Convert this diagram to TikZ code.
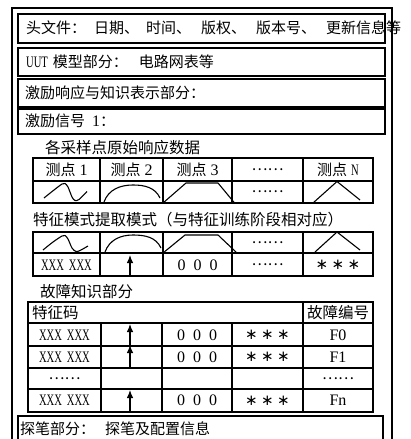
\documentclass[tikz,border=0pt]{standalone}
\usepackage{fontspec}
\setmainfont{Liberation Serif}
\newfontfamily\cjk{Noto Sans CJK SC}
\newfontfamily\latn[FakeStretch=0.66]{Liberation Serif}
\newfontfamily\dejavu{DejaVu Sans}
\usetikzlibrary{arrows.meta}
\tikzset{
  frame/.style={line width=1.8pt},
  secbox/.style={draw, line width=1.5pt, inner sep=0pt, anchor=north west},
  gridline/.style={line width=1.2pt},
  txt/.style={inner sep=0pt, font=\cjk\fontsize{15pt}{15pt}\selectfont},
  bigtxt/.style={inner sep=0pt, font=\cjk\fontsize{15.5pt}{15.5pt}\selectfont},
  cell/.style={inner sep=0pt, font=\fontsize{16pt}{16pt}\selectfont},
  curve/.style={line width=1.1pt, line join=round},
  uparrow/.style={-{Latex[length=8pt,width=6.5pt]}, line width=1.1pt}
}
\newcommand{\dd}{{\cjk\fontsize{15pt}{15pt}\selectfont ……}}
\newcommand{\st}{\makebox[16pt]{\dejavu\fontsize{15pt}{15pt}\selectfont ∗}}
\newcommand{\stars}{\st\st\st}
\newcommand{\xx}{{\latn XXX\hspace{5pt}XXX}}
\newcommand{\zz}{0\hspace{8pt}0\hspace{8pt}0}
\begin{document}
\begin{tikzpicture}[x=1pt,y=-1pt]
\useasboundingbox (0,0) rectangle (410,439);
\clip (0,0) rectangle (410,439);
% outer frame
\draw[frame] (12,460) -- (12,8) -- (392,8) -- (392,460);
% section boxes
\node[secbox, minimum width=367pt, minimum height=29pt] (b1) at (17,13) {};
\node[secbox, minimum width=367pt, minimum height=28pt] (b2) at (17,47) {};
\node[secbox, minimum width=367pt, minimum height=28pt] (b3) at (17,78) {};
\node[secbox, minimum width=367pt, minimum height=25pt] (b4) at (17,108) {};
\node[secbox, minimum width=365pt, minimum height=40pt] (b5) at (17,415) {};
\node[txt, anchor=west] (t1) at (26,28) {头文件：\hspace{8pt}日期、\hspace{7pt}时间、\hspace{10pt}版权、\hspace{10pt}版本号、\hspace{10pt}更新信息等};
\node[txt, anchor=west] (t2) at (26,61.5) {{\latn\fontsize{16pt}{16pt}\selectfont UUT}\hspace{5pt}模型部分：\hspace{11pt}电路网表等};
\node[txt, anchor=west] (t3) at (25,92.5) {激励响应与知识表示部分：};
\node[txt, anchor=west] (t4) at (25,121) {激励信号\hspace{7pt}{\rmfamily\fontsize{16pt}{16pt}\selectfont 1}：};
\node[bigtxt, anchor=west] (t5) at (45,148) {各采样点原始响应数据};
\node[bigtxt, anchor=west] (t6) at (33,219.5) {特征模式提取模式（与特征训练阶段相对应）};
\node[bigtxt, anchor=west] (t7) at (40,292) {故障知识部分};
\node[txt, anchor=west] (t8) at (20,428.5) {探笔部分：\hspace{10pt}探笔及配置信息};
% table 1
\draw[gridline] (33,158) rectangle (373,203);
\draw[gridline] (33,181) -- (373,181);
\foreach \x in {100,163,232,303} \draw[gridline] (\x,158) -- (\x,203);
\node[cell] (h1) at (66.5,169.5) {{\cjk\fontsize{15pt}{15pt}\selectfont 测点}\hspace{4pt}1};
\node[cell] (h2) at (131.5,169.5) {{\cjk\fontsize{15pt}{15pt}\selectfont 测点}\hspace{4pt}2};
\node[cell] (h3) at (197.5,169.5) {{\cjk\fontsize{15pt}{15pt}\selectfont 测点}\hspace{4pt}3};
\node[cell] (h4) at (267.5,169.5) {\dd};
\node[cell] (h5) at (338,169.5) {{\cjk\fontsize{15pt}{15pt}\selectfont 测点}\hspace{4pt}{\latn N}};
\node[cell] (r4) at (267.5,192) {\dd};
\draw[curve] plot[smooth, tension=0.5] coordinates {(44,198) (54,190) (62,184) (65,183.5) (68,187) (72,197) (75,200.5) (79,199.5) (87,191.5)};
\draw[curve] (104,202) to[out=70,in=180] (133,185) to[out=0,in=115] (160,198);
\draw[curve] (163,203) -- (186,183) -- (218,183) -- (235,203.5);
\draw[curve] (313,203) -- (337,181.5) -- (360,200);
% table 2
\draw[gridline] (33,232) rectangle (373,276);
\draw[gridline] (33,253) -- (373,253);
\foreach \x in {100,163,232,303} \draw[gridline] (\x,232) -- (\x,276);
\draw[curve] plot[smooth, tension=0.5] coordinates {(43,250) (53,242) (62,236) (65,235.5) (68,239) (72,248) (76,251.5) (80,250.5) (88,246)};
\draw[curve] (105,252) to[out=70,in=180] (133,235) to[out=0,in=115] (161,248);
\draw[curve] (163,253) -- (185,235) -- (218,235) -- (237,253);
\draw[curve] (315,252) -- (337,232) -- (360,250);
\node[cell] (s4) at (267.5,242.5) {\dd};
\node[cell] (c1) at (66.5,265) {\xx};
\node[cell] (c3) at (197.5,265) {\zz};
\node[cell] (c4) at (267.5,264.5) {\dd};
\node[cell] (c5) at (338,265) {\stars};
\coordinate (a0s) at (130,276);
\coordinate (a0e) at (130,255);
\draw[uparrow] (a0s) -- (a0e);
% table 3
\draw[gridline] (28,302) rectangle (373,412);
\foreach \y in {323,346,368,389} \draw[gridline] (28,\y) -- (373,\y);
\draw[gridline] (303,302) -- (303,412);
\foreach \x in {101,162,232} \draw[gridline] (\x,323) -- (\x,412);
\node[cell, anchor=west] (k0) at (32,313) {\cjk\fontsize{15.5pt}{15.5pt}\selectfont 特征码};
\node[cell] (k5) at (338,313) {\cjk\fontsize{15.5pt}{15.5pt}\selectfont 故障编号};
\foreach \y/\f [count=\i] in {335/F0,357/F1,400.5/Fn} {
  \node[cell] (x\i) at (64.5,\y) {\xx};
  \node[cell] (z\i) at (197,\y) {\zz};
  \node[cell] (s\i) at (267.5,\y) {\stars};
  \node[cell] (f\i) at (338,\y) {\f};
}
\node[cell] (d1) at (64.5,378.5) {\dd};
\node[cell] (d5) at (338,378.5) {\dd};
\coordinate (a1s) at (130,346);
\coordinate (a1e) at (130,324);
\coordinate (a2s) at (130,368);
\coordinate (a2e) at (130,345);
\coordinate (a3s) at (130,412);
\coordinate (a3e) at (130,390);
\draw[uparrow] (a1s) -- (a1e);
\draw[uparrow] (a2s) -- (a2e);
\draw[uparrow] (a3s) -- (a3e);
\end{tikzpicture}
\end{document}
